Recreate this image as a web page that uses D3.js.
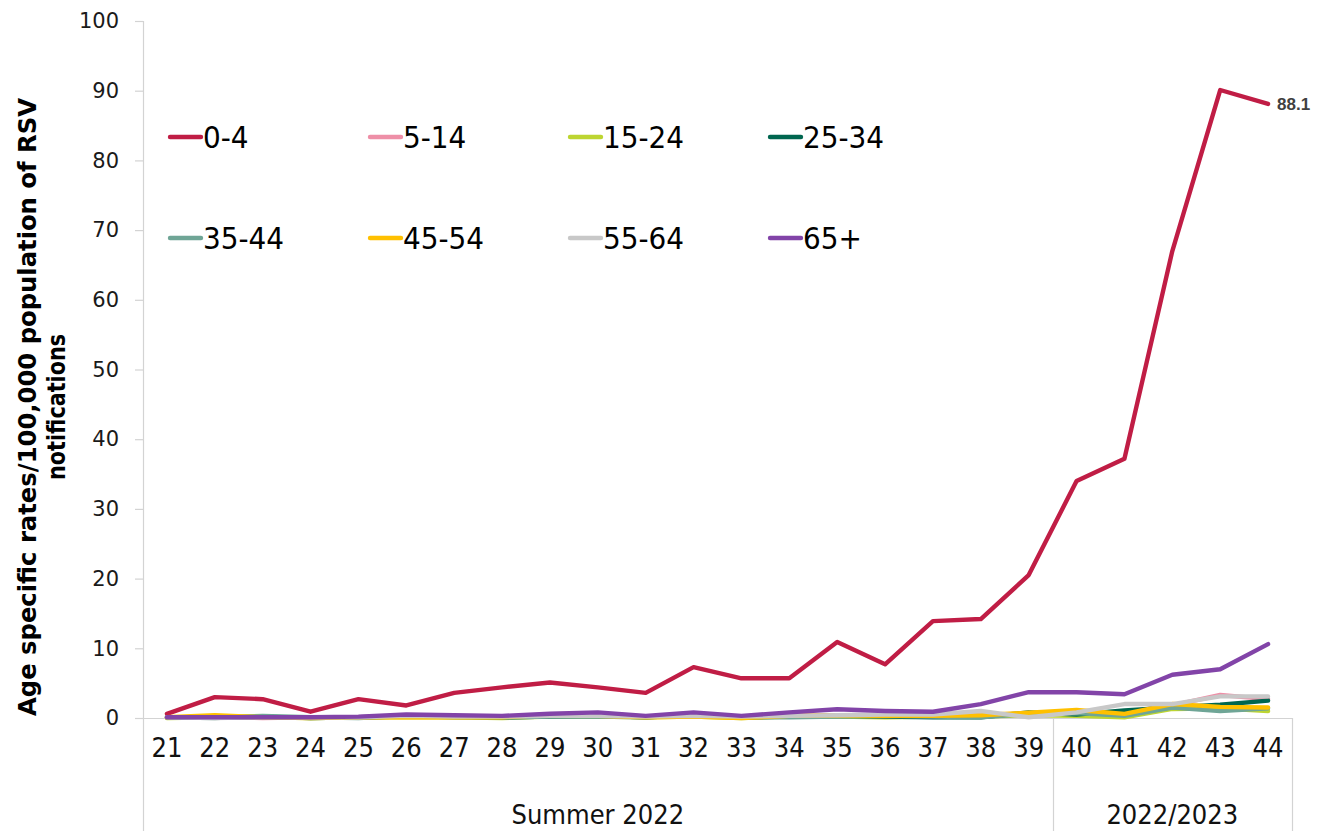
<!DOCTYPE html>
<html>
<head>
<meta charset="utf-8">
<script src="https://cdn.jsdelivr.net/npm/d3@7"></script>
<style>
  html, body { margin: 0; padding: 0; background: #fff; }
  svg { display: block; }
  .narrow { font-family: "Liberation Sans Narrow", "DejaVu Sans Condensed", "Roboto Condensed", sans-serif; font-stretch: condensed; }
</style>
</head>
<body>
<svg id="chart" width="1326" height="831"></svg>
<script>
// Week numbers on the category axis
const weeks = [21,22,23,24,25,26,27,28,29,30,31,32,33,34,35,36,37,38,39,40,41,42,43,44];

// Season groups under the week labels
const groupLabels = ["Summer 2022", "2022/2023"];
const groupFirstWeek = [21, 40];
const groupLastWeek = [39, 44];

// Age group names (legend order)
const ageGroups = ["0-4","5-14","15-24","25-34","35-44","45-54","55-64","65+"];

// Rates per 100,000 population, by week
const rate0to4   = [0.6,3.0,2.7,0.9,2.7,1.8,3.6,4.4,5.1,4.4,3.6,7.3,5.7,5.7,10.9,7.7,13.9,14.2,20.5,34.0,37.2,67.0,90.1,88.1];
const rate5to14  = [0.1,0.1,0.0,0.1,0.1,0.2,0.2,0.1,0.3,0.5,0.2,0.3,0.1,0.3,0.4,0.4,0.3,0.5,0.3,0.6,0.8,1.8,3.3,2.7];
const rate15to24 = [0.0,0.1,0.1,0.0,0.1,0.1,0.1,0.0,0.2,0.2,0.1,0.2,0.0,0.2,0.2,0.1,0.2,0.2,0.4,0.3,0.1,1.3,1.4,1.0];
const rate25to34 = [0.1,0.1,0.2,0.0,0.1,0.2,0.2,0.1,0.2,0.3,0.1,0.4,0.1,0.2,0.3,0.2,0.1,0.1,0.8,0.5,1.1,1.5,1.9,2.5];
const rate35to44 = [0.1,0.0,0.3,0.1,0.0,0.3,0.1,0.1,0.2,0.2,0.1,0.5,0.1,0.1,0.2,0.3,0.2,0.1,0.6,0.7,0.3,1.5,1.0,1.4];
const rate45to54 = [0.1,0.4,0.1,0.0,0.1,0.1,0.1,0.1,0.5,0.3,0.1,0.2,0.0,0.3,0.4,0.3,0.3,0.4,0.75,1.15,0.6,2.0,1.6,1.5];
const rate55to64 = [0.1,0.0,0.1,0.1,0.1,0.3,0.2,0.2,0.3,0.3,0.2,0.3,0.2,0.3,0.4,0.5,0.5,1.0,0.1,0.8,2.0,2.0,3.1,3.1];
const rate65plus = [0.1,0.1,0.1,0.1,0.2,0.5,0.4,0.3,0.6,0.8,0.3,0.8,0.3,0.8,1.25,1.0,0.9,2.0,3.7,3.7,3.4,6.2,7.0,10.6];

const seriesColors = ["#C01D45","#EE8FA7","#BDD531","#00664F","#6FA596","#FFC000","#C8C8C8","#8244A8"];

// Y axis ticks
const yTicks = [0,10,20,30,40,50,60,70,80,90,100];
const yTitleLines = ["Age specific rates/100,000 population of RSV", "notifications"];

const allSeries = [rate0to4, rate5to14, rate15to24, rate25to34, rate35to44, rate45to54, rate55to64, rate65plus];
const series = ageGroups.map((name, i) => ({ name, color: seriesColors[i], values: allSeries[i] }));

const svg = d3.select("#chart");
const axisColor = "#D3D3D3";

const x = d3.scaleBand().domain(weeks).range([143, 1292]).paddingInner(0).paddingOuter(0);
const cx = w => x(w) + x.bandwidth() / 2;
const y = d3.scaleLinear().domain([0, 100]).range([718, 21]);

// Y axis
const yAxis = svg.append("g")
  .attr("transform", "translate(143,0)")
  .call(d3.axisLeft(y).tickValues(yTicks).tickSize(8).tickPadding(16).tickSizeOuter(0));
yAxis.select(".domain").remove();
yAxis.selectAll(".tick line").attr("stroke", axisColor).attr("stroke-width", 1.2);
yAxis.selectAll(".tick text")
  .attr("fill", "#1a1a1a")
  .style("font-family", "'DejaVu Sans', sans-serif")
  .style("font-size", "21px");

// vertical axis line, continued down as the left border of the category area
svg.append("line")
  .attr("x1", 143.5).attr("x2", 143.5)
  .attr("y1", y(100)).attr("y2", 831)
  .attr("stroke", axisColor).attr("stroke-width", 1.2);

// horizontal axis line
svg.append("line")
  .attr("x1", 143).attr("x2", 1292)
  .attr("y1", y(0) + 0.5).attr("y2", y(0) + 0.5)
  .attr("stroke", axisColor).attr("stroke-width", 1.2);

// season group borders
groupLastWeek.forEach(w => {
  const bx = Math.round(x(w) + x.bandwidth()) + 0.5;
  svg.append("line")
    .attr("x1", bx).attr("x2", bx)
    .attr("y1", y(0)).attr("y2", 831)
    .attr("stroke", axisColor).attr("stroke-width", 1.2);
});

// week labels
svg.append("g").selectAll("text")
  .data(weeks).join("text")
  .attr("class", "narrow")
  .attr("x", d => cx(d))
  .attr("y", 757)
  .attr("text-anchor", "middle")
  .attr("fill", "#111")
  .style("font-size", "27px")
  .text(d => d);

// season labels
svg.append("g").selectAll("text")
  .data(groupLabels).join("text")
  .attr("class", "narrow")
  .attr("x", (d, i) => (x(groupFirstWeek[i]) + x(groupLastWeek[i]) + x.bandwidth()) / 2)
  .attr("y", 824)
  .attr("text-anchor", "middle")
  .attr("fill", "#111")
  .style("font-size", "27px")
  .text(d => d);

// y axis title (two lines, condensed bold)
const titleLengths = [618, 146];
const yTitle = svg.append("text")
  .attr("class", "narrow")
  .attr("transform", "translate(41,407) rotate(-90)")
  .attr("text-anchor", "middle")
  .attr("fill", "#000")
  .style("font-size", "24px")
  .style("font-weight", "bold");
yTitle.selectAll("tspan")
  .data(yTitleLines).join("tspan")
  .attr("x", 0)
  .attr("y", (d, i) => i === 0 ? -5 : 24)
  .attr("textLength", (d, i) => titleLengths[i])
  .attr("lengthAdjust", "spacingAndGlyphs")
  .text(d => d);

// series lines
const line = d3.line()
  .x((d, i) => cx(weeks[i]))
  .y(d => y(d));

svg.append("g").selectAll("path")
  .data(series).join("path")
  .attr("d", d => line(d.values))
  .attr("fill", "none")
  .attr("stroke", d => d.color)
  .attr("stroke-width", 4.4)
  .attr("stroke-linejoin", "round")
  .attr("stroke-linecap", "round");

// value label for the last 0-4 point
const lastIdx = weeks.length - 1;
svg.append("text")
  .attr("x", cx(weeks[lastIdx]) + 9)
  .attr("y", y(rate0to4[lastIdx]) + 6)
  .attr("fill", "#404040")
  .style("font-family", "'Liberation Sans', sans-serif")
  .style("font-size", "17px")
  .style("font-weight", "bold")
  .text(d3.format(".1f")(rate0to4[lastIdx]));

// legend: two rows of four
const legend = svg.append("g").selectAll("g")
  .data(series).join("g")
  .attr("transform", (d, i) => `translate(${170 + (i % 4) * 200},${137 + Math.floor(i / 4) * 101})`);
legend.append("line")
  .attr("x1", 0).attr("x2", 31)
  .attr("y1", 0).attr("y2", 0)
  .attr("stroke", d => d.color)
  .attr("stroke-width", 4.4)
  .attr("stroke-linecap", "round");
legend.append("text")
  .attr("class", "narrow")
  .attr("x", 33)
  .attr("y", 11)
  .attr("fill", "#000")
  .style("font-size", "31px")
  .text(d => d.name);
</script>
</body>
</html>
